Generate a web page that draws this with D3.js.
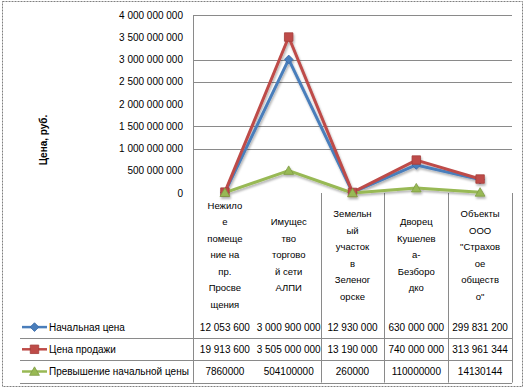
<!DOCTYPE html>
<html>
<head>
<meta charset="utf-8">
<script src="https://cdn.jsdelivr.net/npm/d3@7"></script>
<style>
body{margin:0;background:#fff;}
svg text{font-family:"Liberation Sans",Arial,sans-serif;fill:#000;}
</style>
</head>
<body>
<div id="chart"></div>
<script>
// category labels, already wrapped the way the table shows them
const categories=[
  ["Нежило","е","помеще","ние на","пр.","Просве","щения"],
  ["Имущес","тво","торгово","й сети","АЛПИ"],
  ["Земельн","ый","участок","в","Зеленог","орске"],
  ["Дворец","Кушелев","а-","Безборо","дко"],
  ["Объекты","ООО","\"Страхов","ое","обществ","о\""]
];
const seriesNames=["Начальная цена","Цена продажи","Превышение начальной цены"];
const startPrice=[12053600,3000900000,12930000,630000000,299831200];
const salePrice=[19913600,3505000000,13190000,740000000,313961344];
const excess=[7860000,504100000,260000,110000000,14130144];
const yTicks=[0,5e8,1e9,1.5e9,2e9,2.5e9,3e9,3.5e9,4e9];
const gridTicks=[1e9,1.5e9,2.5e9,3e9,4e9];
const yTitle="Цена, руб.";

const W=525,H=390;
const plotL=193,plotR=512,plotT=15,plotB=193;
const tableTop=316,rowH=22.2,keyLeft=20;

const svg=d3.select("#chart").append("svg").attr("width",W).attr("height",H);

const defs=svg.append("defs");
const f=defs.append("filter").attr("id","shadow").attr("x","-20%").attr("y","-20%").attr("width","140%").attr("height","140%");
f.append("feDropShadow").attr("dx",1).attr("dy",2).attr("stdDeviation",1)
  .attr("flood-color","#000").attr("flood-opacity",0.3);

// outer border
svg.append("rect").attr("x",2.5).attr("y",1.5).attr("width",520).attr("height",385)
  .attr("fill","none").attr("stroke","#7f7f7f").attr("stroke-dasharray","2,1");

const x=d3.scaleBand().domain(d3.range(categories.length)).range([plotL,plotR]);
const cx=i=>x(i)+x.bandwidth()/2;
const y=d3.scaleLinear().domain([0,4e9]).range([plotB,plotT]);
const fmt=v=>d3.format(",")(v).replace(/,/g," ");

// gridlines
svg.append("g").selectAll("line").data(gridTicks).enter().append("line")
  .attr("x1",plotL).attr("x2",plotR)
  .attr("y1",d=>Math.round(y(d))+0.5).attr("y2",d=>Math.round(y(d))+0.5)
  .attr("stroke","#8a8a8a");

// y axis labels
svg.append("g").selectAll("text").data(yTicks).enter().append("text")
  .attr("x",183).attr("y",d=>y(d)).attr("dy","0.35em")
  .attr("text-anchor","end").style("font-size","10px").text(fmt);

svg.append("text").attr("transform","translate(47,140) rotate(-90)")
  .attr("text-anchor","middle").style("font-size","10px").style("font-weight","bold").text(yTitle);

// axis line + column separators running through the table
const tableBottom=tableTop+rowH*3;
svg.append("line").attr("x1",plotL+0.5).attr("x2",plotL+0.5).attr("y1",plotT).attr("y2",tableBottom)
  .attr("stroke","#8a8a8a");
svg.append("g").selectAll("line").data(d3.range(2,categories.length+1)).enter().append("line")
  .attr("x1",i=>Math.round(plotL+i*x.bandwidth())+0.5).attr("x2",i=>Math.round(plotL+i*x.bandwidth())+0.5)
  .attr("y1",plotB).attr("y2",tableBottom).attr("stroke","#8a8a8a");

// category labels
const lineH=16.5;
categories.forEach((lines,i)=>{
  const t=svg.append("text").attr("text-anchor","middle").style("font-size","9.5px");
  const y0=255-(lines.length-1)*lineH/2;
  lines.forEach((s,k)=>t.append("tspan").attr("x",cx(i)).attr("y",y0+k*lineH).attr("dy","0.35em").text(s));
});

const series=[
  {name:seriesNames[0],values:startPrice,color:"#4a7ebb",mark:"diamond",group:true},
  {name:seriesNames[1],values:salePrice,color:"#be4b48",mark:"square",group:true},
  {name:seriesNames[2],values:excess,color:"#98b954",mark:"triangle",group:false}
];
const marker=(g,s,px,py)=>{
  if(s.mark==="diamond"){
    g.append("path").attr("d",d3.symbol(d3.symbolSquare,38)()).attr("transform",`translate(${px},${py}) rotate(45)`)
      .attr("fill",s.color).attr("stroke","#3a6aa8").attr("stroke-width",0.8);
  } else if(s.mark==="square"){
    g.append("path").attr("d",d3.symbol(d3.symbolSquare,72)()).attr("transform",`translate(${px},${py})`)
      .attr("fill",s.color).attr("stroke","#a33d3a").attr("stroke-width",0.8);
  } else {
    g.append("path").attr("d",d3.symbol(d3.symbolTriangle,42)()).attr("transform",`translate(${px},${py+1})`)
      .attr("fill",s.color).attr("stroke","#7e9a45").attr("stroke-width",0.8);
  }
};

const line=d3.line().x((d,i)=>cx(i)).y(d=>y(d));
const plot=svg.append("g").attr("filter","url(#shadow)");
series.forEach(s=>{
  plot.append("path").attr("d",line(s.values)).attr("fill","none")
    .attr("stroke",s.color).attr("stroke-width",3).attr("stroke-linejoin","round");
});
series.forEach(s=>{
  s.values.forEach((v,i)=>marker(plot,s,cx(i),y(v)));
});

// data table rows
series.forEach((s,r)=>{
  const ry=tableTop+rowH*(r+0.5);
  const yl=Math.round(tableTop+rowH*(r+1))+0.5;
  svg.append("line").attr("x1",keyLeft).attr("x2",plotR).attr("y1",yl).attr("y2",yl).attr("stroke","#8a8a8a");
  svg.append("line").attr("x1",22).attr("x2",47).attr("y1",ry).attr("y2",ry)
    .attr("stroke",s.color).attr("stroke-width",2.5);
  marker(svg,s,34.5,ry);
  svg.append("text").attr("x",49).attr("y",ry).attr("dy","0.35em").style("font-size","10px").text(s.name);
  s.values.forEach((v,i)=>{
    svg.append("text").attr("x",cx(i)).attr("y",ry).attr("dy","0.35em")
      .attr("text-anchor","middle").style("font-size","10px").text(s.group?fmt(v):String(v));
  });
});
</script>
</body>
</html>
